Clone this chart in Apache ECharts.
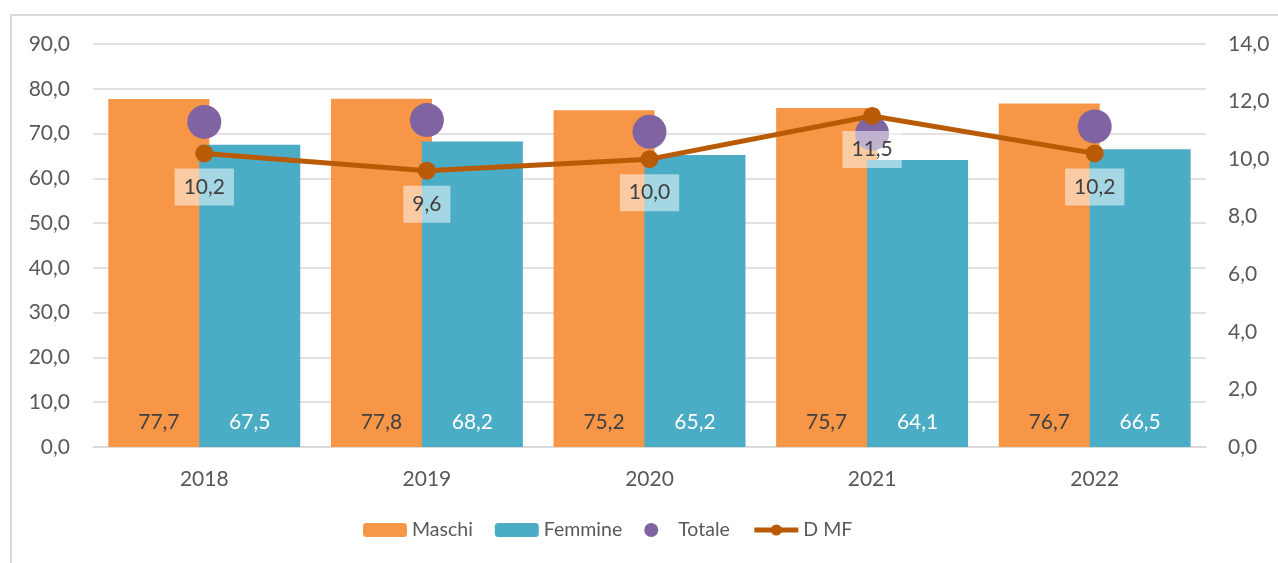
<!DOCTYPE html>
<html>
<head>
<meta charset="utf-8">
<script src="https://cdn.jsdelivr.net/npm/echarts@6/dist/echarts.min.js"></script>
<style>
  body { margin: 0; background: #fff; }
  #wrap { position: relative; width: 1278px; height: 563px; overflow: hidden; }
  #frame { position: absolute; left: 10px; top: 14px; width: 1300px; height: 600px; border: 2px solid #d9d9d9; box-sizing: border-box; }
  #chart { position: absolute; left: 0; top: 0; width: 1278px; height: 563px; }
</style>
</head>
<body>
<div id="wrap">
  <div id="frame"></div>
  <div id="chart"></div>
</div>
<script>
// anni
const anni = ['2018', '2019', '2020', '2021', '2022'];
// tassi per genere
const maschi = [77.7, 77.8, 75.2, 75.7, 76.7];
const femmine = [67.5, 68.2, 65.2, 64.1, 66.5];
// totale (asse sinistro)
const totale = [72.6, 73.0, 70.4, 70.0, 71.6];
// differenza maschi-femmine (asse destro)
const dmf = [10.2, 9.6, 10.0, 11.5, 10.2];

const fmt = v => Number(v).toFixed(1).replace('.', ',');
const font = 'Lato, "Open Sans", sans-serif';
const lineColor = '#B95B05';

let myChart = echarts.init(document.getElementById('chart'));
let option = {
  animation: false,
  textStyle: { fontFamily: font },
  grid: { left: 93, right: 72, top: 44, bottom: 116 },
  legend: {
    bottom: 18,
    left: 358,
    itemWidth: 44,
    itemHeight: 14,
    itemGap: 22,
    textStyle: { fontSize: 19.5, color: '#595959', fontFamily: font },
    data: [
      'Maschi',
      'Femmine',
      'Totale',
      { name: 'D MF', lineStyle: { width: 5, color: lineColor }, itemStyle: { color: lineColor } }
    ]
  },
  xAxis: {
    type: 'category',
    data: anni,
    axisLine: { lineStyle: { color: '#d9d9d9', width: 1.5 } },
    axisTick: { show: false },
    axisLabel: { fontSize: 21, color: '#595959', margin: 22 }
  },
  yAxis: [
    {
      type: 'value',
      min: 0, max: 90, interval: 10,
      axisLine: { show: false },
      axisTick: { show: false },
      splitLine: { lineStyle: { color: '#d9d9d9', width: 1.5 } },
      axisLabel: { fontSize: 21, color: '#595959', margin: 23, formatter: fmt }
    },
    {
      type: 'value',
      min: 0, max: 14, interval: 2,
      axisLine: { show: false },
      axisTick: { show: false },
      splitLine: { show: false },
      axisLabel: { fontSize: 21, color: '#595959', margin: 22, formatter: fmt }
    }
  ],
  series: [
    {
      name: 'Maschi',
      type: 'bar',
      data: maschi,
      barWidth: 101,
      barGap: '-10%',
      itemStyle: { color: '#F79646' },
      label: {
        show: true, position: 'insideBottom', distance: 14,
        fontSize: 21, color: '#404040', formatter: p => fmt(p.value)
      }
    },
    {
      name: 'Femmine',
      type: 'bar',
      data: femmine,
      barWidth: 101,
      itemStyle: { color: '#4BACC6' },
      label: {
        show: true, position: 'insideBottom', distance: 14,
        fontSize: 21, color: '#ffffff', formatter: p => fmt(p.value)
      }
    },
    {
      name: 'Totale',
      type: 'scatter',
      data: totale,
      symbolSize: 34,
      z: 3,
      itemStyle: { color: '#8064A2', opacity: 1 }
    },
    {
      name: 'D MF',
      type: 'line',
      yAxisIndex: 1,
      data: dmf,
      z: 4,
      symbol: 'circle',
      symbolSize: 18,
      lineStyle: { color: lineColor, width: 5 },
      itemStyle: { color: lineColor },
      label: {
        show: true, position: 'bottom', distance: 6,
        fontSize: 21, color: '#404040',
        backgroundColor: 'rgba(255,255,255,0.5)',
        padding: [8, 9, 8, 9],
        formatter: p => fmt(p.value)
      }
    }
  ]
};
myChart.setOption(option);
</script>
</body>
</html>
